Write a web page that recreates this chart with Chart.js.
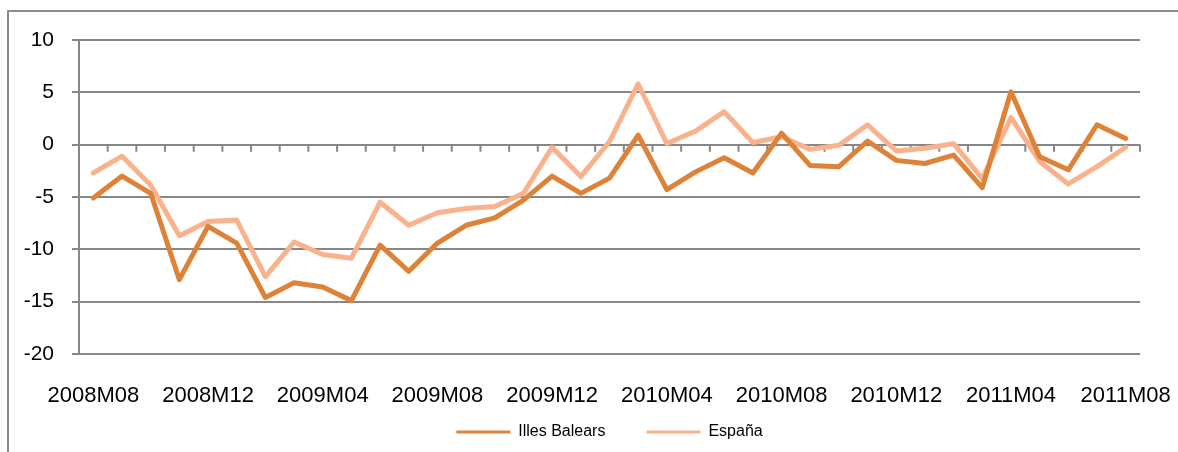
<!DOCTYPE html>
<html>
<head>
<meta charset="utf-8">
<script src="https://cdn.jsdelivr.net/npm/chart.js@4"></script>
<style>
  body { margin: 0; background: #fff; }
  #wrap { position: relative; width: 1178px; height: 452px; overflow: hidden; }
  #frame { position: absolute; left: 7px; top: 10px; width: 1200px; height: 500px;
           border-top: 2px solid #8c8c8c; border-left: 2px solid #8c8c8c; }
  canvas { position: absolute; left: 0; top: 0; }
</style>
</head>
<body>
<div id="wrap">
  <div id="frame"></div>
  <canvas id="tasaChart" width="1178" height="452"></canvas>
</div>
<script>
var months = ['2008M08', '2008M09', '2008M10', '2008M11', '2008M12', '2009M01', '2009M02', '2009M03',
              '2009M04', '2009M05', '2009M06', '2009M07', '2009M08', '2009M09', '2009M10', '2009M11',
              '2009M12', '2010M01', '2010M02', '2010M03', '2010M04', '2010M05', '2010M06', '2010M07',
              '2010M08', '2010M09', '2010M10', '2010M11', '2010M12', '2011M01', '2011M02', '2011M03',
              '2011M04', '2011M05', '2011M06', '2011M07', '2011M08'];

var illesBalears = [-5.1, -3.0, -4.65, -12.9, -7.8, -9.4, -14.6, -13.2, -13.6, -14.9, -9.6, -12.1,
                    -9.4, -7.7, -7.0, -5.3, -3.0, -4.65, -3.2, 0.9, -4.3, -2.6, -1.25, -2.7,
                    1.1, -2.0, -2.1, 0.35, -1.5, -1.8, -1.0, -4.1, 5.05, -1.15, -2.4, 1.9, 0.6];

var espana = [-2.7, -1.1, -3.85, -8.7, -7.35, -7.2, -12.6, -9.3, -10.5, -10.85, -5.5, -7.7,
              -6.5, -6.1, -5.9, -4.65, -0.25, -3.05, 0.3, 5.8, 0.1, 1.3, 3.15, 0.2,
              0.75, -0.45, -0.05, 1.9, -0.6, -0.35, 0.1, -3.25, 2.6, -1.6, -3.75, -2.1, -0.25];

var seriesNames = ['Illes Balears', 'España'];
var seriesColors = ['#dd8237', '#f9b28b'];
var gridColor = '#878787';

// little tick marks hanging under the zero line, one per category boundary
var zeroTicks = {
    id: 'zeroTicks',
    beforeDatasetsDraw: function(chart) {
        var x = chart.scales.x, y = chart.scales.y, ctx = chart.ctx;
        var y0 = y.getPixelForValue(0);
        ctx.save();
        ctx.strokeStyle = gridColor;
        ctx.lineWidth = 2;
        ctx.beginPath();
        for (var i = 0; i <= months.length; i++) {
            var px = x.getPixelForValue(i - 0.5);
            ctx.moveTo(px, y0);
            ctx.lineTo(px, y0 + 7);
        }
        ctx.stroke();
        ctx.restore();
    }
};

var ctx = document.getElementById('tasaChart').getContext('2d');
var tasaChart = new Chart(ctx, {
    type: 'line',
    data: {
        labels: months,
        datasets: [{
            label: seriesNames[0],
            data: illesBalears,
            borderColor: seriesColors[0],
            backgroundColor: seriesColors[0],
            borderWidth: 5,
            pointRadius: 0,
            tension: 0,
            borderCapStyle: 'round',
            borderJoinStyle: 'round'
        }, {
            label: seriesNames[1],
            data: espana,
            borderColor: seriesColors[1],
            backgroundColor: seriesColors[1],
            borderWidth: 5,
            pointRadius: 0,
            tension: 0,
            borderCapStyle: 'round',
            borderJoinStyle: 'round'
        }]
    },
    options: {
        responsive: false,
        animation: false,
        layout: {
            padding: { left: 0, right: 38, top: 40, bottom: 2 }
        },
        scales: {
            x: {
                offset: true,
                grid: { display: false, drawTicks: false },
                border: { display: false },
                ticks: {
                    autoSkip: false,
                    maxRotation: 0,
                    mirror: true,   // keeps the labels from being clipped to the short axis box
                    padding: -55,
                    color: '#000',
                    font: { family: 'Liberation Sans', size: 22 },
                    callback: function(value, index) {
                        return index % 4 === 0 ? months[index] : '';
                    }
                },
                afterFit: function(scale) {
                    scale.height = 29;
                    scale.paddingLeft = 0;
                    scale.paddingRight = 0;
                }
            },
            y: {
                min: -20,
                max: 10,
                ticks: {
                    stepSize: 5,
                    padding: 18,
                    color: '#000',
                    font: { family: 'Liberation Sans', size: 21 }
                },
                grid: { color: gridColor, lineWidth: 2, tickLength: 7 },
                border: { color: gridColor, width: 2 },
                afterFit: function(scale) { scale.width = 79; }
            }
        },
        plugins: {
            legend: {
                position: 'bottom',
                fullSize: false,
                labels: {
                    boxWidth: 54,
                    boxHeight: 3,
                    padding: 41,
                    color: '#000',
                    font: { family: 'Liberation Sans', size: 16 },
                    generateLabels: function(chart) {
                        return chart.data.datasets.map(function(ds, i) {
                            return {
                                text: ds.label,
                                fillStyle: ds.borderColor,
                                strokeStyle: ds.borderColor,
                                lineWidth: 0,
                                hidden: false,
                                datasetIndex: i
                            };
                        });
                    }
                }
            },
            tooltip: { enabled: false }
        }
    },
    plugins: [zeroTicks]
});
</script>
</body>
</html>
